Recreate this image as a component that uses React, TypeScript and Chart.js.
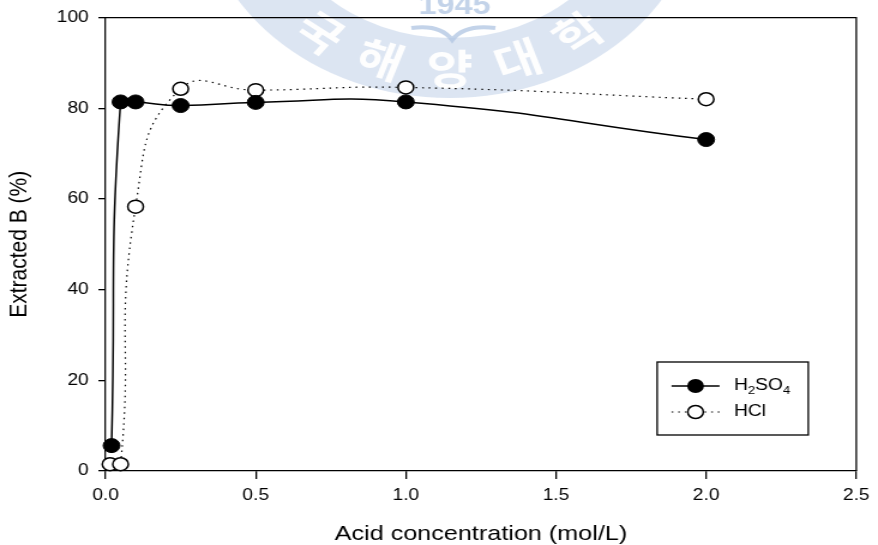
import React, { useEffect, useRef } from "react";
import { Chart, registerables } from "chart.js";

Chart.register(...registerables);

// ---- data ----
const h2so4Conc = [0.02, 0.05, 0.1, 0.25, 0.5, 1.0, 2.0];
const h2so4Extracted = [5.6, 81.4, 81.4, 80.6, 81.3, 81.4, 73.1];
const hclConc = [0.015, 0.05, 0.1, 0.25, 0.5, 1.0, 2.0];
const hclExtracted = [1.5, 1.5, 58.3, 84.3, 84.0, 84.6, 82.0];
const xTicks = [0, 0.5, 1.0, 1.5, 2.0, 2.5];
const yTicks = [0, 20, 40, 60, 80, 100];
const xTitle = "Acid concentration (mol/L)";
const yTitle = "Extracted B (%)";
const watermarkYear = "1945";
const watermarkChars = ["국", "해", "양", "대", "학"];

const CANVAS_W = 732;
const CANVAS_H = 545;
const STRETCH = 878 / CANVAS_W;
const FONT = "'Liberation Sans', Arial, Helvetica, sans-serif";

const watermarkPlugin = {
  id: "watermark",
  beforeDraw(chart: any) {
    const ctx = chart.ctx;
    const cx = 375;
    const cy = -110;
    ctx.save();
    // ring
    ctx.beginPath();
    ctx.arc(cx, cy, 208, 0, Math.PI * 2);
    ctx.arc(cx, cy, 148, 0, Math.PI * 2, true);
    ctx.fillStyle = "rgba(196,212,234,0.6)";
    ctx.fill("evenodd");
    // year
    ctx.fillStyle = "rgba(180,200,228,0.8)";
    ctx.font = `bold 27px ${FONT}`;
    ctx.textAlign = "center";
    ctx.textBaseline = "middle";
    ctx.fillText(watermarkYear, cx + 4, 7);
    // book-like arcs
    ctx.strokeStyle = "rgba(180,200,228,0.8)";
    ctx.lineWidth = 4;
    ctx.beginPath();
    ctx.moveTo(cx - 32, 28);
    ctx.quadraticCurveTo(cx - 8, 24, cx + 2, 40);
    ctx.quadraticCurveTo(cx + 12, 24, cx + 38, 28);
    ctx.stroke();
    // characters along the ring
    ctx.fillStyle = "rgba(255,255,255,0.97)";
    ctx.font = `bold 42px 'Noto Sans CJK KR', sans-serif`;
    const angles = [2.22, 1.9, 1.57, 1.25, 0.93];
    watermarkChars.forEach((ch, i) => {
      const a = angles[i];
      const r = 179;
      const x = cx + r * Math.cos(a);
      const y = cy + r * Math.sin(a);
      ctx.save();
      ctx.translate(x, y);
      ctx.rotate(a - Math.PI / 2);
      ctx.fillText(ch, 0, 0);
      ctx.restore();
    });
    ctx.restore();
  },
};

const framePlugin = {
  id: "frame",
  afterDatasetsDraw(chart: any) {
    const { ctx, chartArea } = chart;
    ctx.save();
    ctx.strokeStyle = "#000";
    ctx.lineWidth = 1.3;
    ctx.beginPath();
    ctx.moveTo(chartArea.left, chartArea.top);
    ctx.lineTo(chartArea.right, chartArea.top);
    ctx.lineTo(chartArea.right, chartArea.bottom);
    ctx.stroke();
    ctx.restore();
  },
};

function drawSubText(ctx: any, parts: [string, boolean][], x: number, y: number) {
  let cx = x;
  parts.forEach(([t, sub]) => {
    ctx.font = sub ? `11px ${FONT}` : `16px ${FONT}`;
    ctx.fillText(t, cx, sub ? y + 5 : y);
    cx += ctx.measureText(t).width;
  });
}

const legendPlugin = {
  id: "customLegend",
  afterDraw(chart: any) {
    const { ctx, chartArea } = chart;
    const bx = chartArea.right - 166;
    const by = chartArea.bottom - 109;
    const bw = 126;
    const bh = 73;
    ctx.save();
    ctx.fillStyle = "#fff";
    ctx.fillRect(bx, by, bw, bh);
    ctx.strokeStyle = "#000";
    ctx.lineWidth = 1.3;
    ctx.strokeRect(bx, by, bw, bh);

    const lx0 = bx + 12;
    const lx1 = bx + 52;
    const mx = bx + 32;
    const tx = bx + 64;
    const y1 = by + 24;
    const y2 = by + 50;

    // H2SO4 row
    ctx.setLineDash([]);
    ctx.lineWidth = 1.5;
    ctx.beginPath();
    ctx.moveTo(lx0, y1);
    ctx.lineTo(lx1, y1);
    ctx.stroke();
    ctx.beginPath();
    ctx.arc(mx, y1, 7, 0, Math.PI * 2);
    ctx.fillStyle = "#000";
    ctx.fill();

    // HCl row
    ctx.lineWidth = 1.2;
    ctx.setLineDash([1.5, 4]);
    ctx.beginPath();
    ctx.moveTo(lx0, y2);
    ctx.lineTo(lx1, y2);
    ctx.stroke();
    ctx.setLineDash([]);
    ctx.beginPath();
    ctx.arc(mx, y2, 6.5, 0, Math.PI * 2);
    ctx.fillStyle = "#fff";
    ctx.fill();
    ctx.lineWidth = 1.5;
    ctx.stroke();

    ctx.fillStyle = "#000";
    ctx.textBaseline = "middle";
    ctx.textAlign = "left";
    drawSubText(ctx, [["H", false], ["2", true], ["SO", false], ["4", true]], tx, y1);
    drawSubText(ctx, [["HCl", false]], tx, y2);
    ctx.restore();
  },
};

export default function App() {
  const canvasRef = useRef<HTMLCanvasElement | null>(null);

  useEffect(() => {
    if (!canvasRef.current) return;
    const chart = new Chart(canvasRef.current, {
      type: "line",
      data: {
        datasets: [
          {
            label: "H2SO4",
            data: h2so4Conc.map((x, i) => ({ x, y: h2so4Extracted[i] })),
            borderColor: "#000",
            backgroundColor: "#000",
            borderWidth: 1.5,
            pointRadius: 7,
            pointBorderWidth: 1,
            pointBackgroundColor: "#000",
            pointBorderColor: "#000",
            tension: 0.5,
            clip: false,
          } as any,
          {
            label: "HCl",
            data: hclConc.map((x, i) => ({ x, y: hclExtracted[i] })),
            borderColor: "#000",
            backgroundColor: "#fff",
            borderWidth: 1.2,
            borderDash: [1.5, 4],
            pointRadius: 6.5,
            pointBorderWidth: 1.5,
            pointBackgroundColor: "#fff",
            pointBorderColor: "#000",
            tension: 0.5,
            clip: false,
          } as any,
        ],
      },
      options: {
        animation: false,
        responsive: false,
        maintainAspectRatio: false,
        layout: { padding: { top: 16, right: 15, left: 0, bottom: 0 } },
        plugins: {
          legend: { display: false },
          tooltip: { enabled: false },
        },
        scales: {
          x: {
            type: "linear",
            min: 0,
            max: 2.5,
            afterFit(scale: any) {
              scale.height = 74;
            },
            afterBuildTicks(scale: any) {
              scale.ticks = xTicks.map((v) => ({ value: v }));
            },
            ticks: {
              color: "#000",
              font: { family: FONT, size: 16 },
              padding: 7,
              maxRotation: 0,
              callback: (v: any) => Number(v).toFixed(1),
            },
            grid: {
              display: true,
              drawOnChartArea: false,
              drawTicks: true,
              tickLength: 8,
              color: "#000",
              lineWidth: 1.3,
            },
            border: { display: true, color: "#000", width: 1.3 },
            title: {
              display: true,
              text: xTitle,
              color: "#000",
              font: { family: FONT, size: 21 },
              padding: { top: 0, bottom: -2 },
            },
          },
          y: {
            type: "linear",
            min: 0,
            max: 100,
            afterFit(scale: any) {
              scale.width = 88;
            },
            afterBuildTicks(scale: any) {
              scale.ticks = yTicks.map((v) => ({ value: v }));
            },
            ticks: {
              color: "#000",
              font: { family: FONT, size: 16 },
              padding: 8,
              callback: (v: any) => String(v),
            },
            grid: {
              display: true,
              drawOnChartArea: false,
              drawTicks: true,
              tickLength: 6,
              color: "#000",
              lineWidth: 1.3,
            },
            border: { display: true, color: "#000", width: 1.3 },
            title: {
              display: true,
              text: yTitle,
              color: "#000",
              font: { family: FONT, size: 21 },
              padding: { top: 4, bottom: 0 },
            },
          },
        },
      },
      plugins: [watermarkPlugin, framePlugin, legendPlugin],
    } as any);
    return () => chart.destroy();
  }, []);

  return (
    <div
      style={{
        position: "fixed",
        left: 0,
        top: 0,
        width: 878,
        height: 545,
        overflow: "hidden",
        background: "#fff",
      }}
    >
      <canvas
        ref={canvasRef}
        width={CANVAS_W}
        height={CANVAS_H}
        style={{
          display: "block",
          width: CANVAS_W,
          height: CANVAS_H,
          transform: `scaleX(${STRETCH})`,
          transformOrigin: "0 0",
        }}
      />
    </div>
  );
}
